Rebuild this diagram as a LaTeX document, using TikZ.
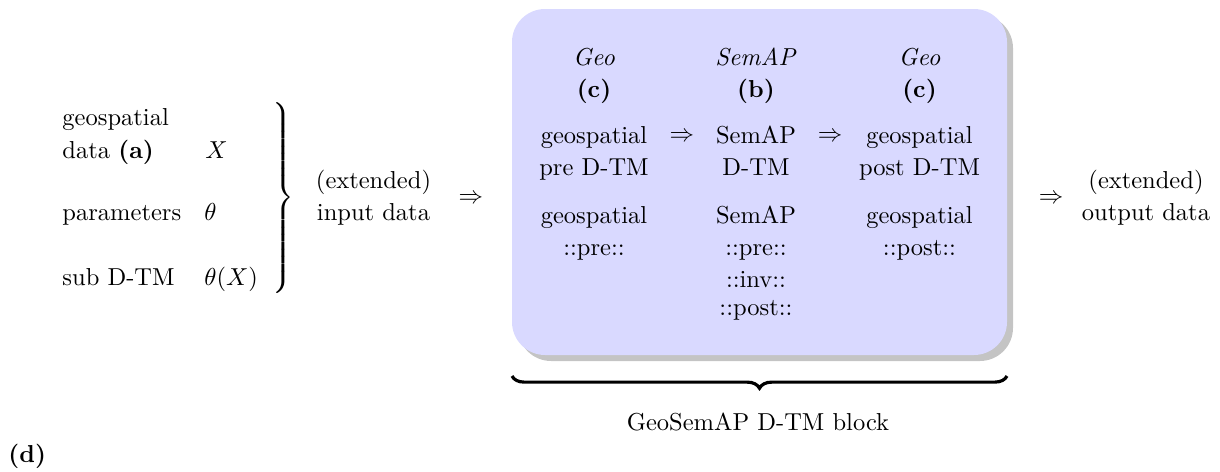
\documentclass[tikz,border=0pt]{standalone}
\usetikzlibrary{decorations.pathreplacing}
\begin{document}
\begin{tikzpicture}[x=0.408pt,y=-0.408pt,
  ln/.style={inner sep=0pt,anchor=base},
  lw/.style={inner sep=0pt,anchor=base west},
  arr/.style={inner sep=0pt,anchor=center},
  blockbg/.style={fill=blue!15,rounded corners=13.5pt},
  blockshadow/.style={fill=black!23,rounded corners=13.5pt},
  bracedeco/.style={decorate,decoration={brace,mirror,amplitude=5pt},line width=1.3pt}]
\useasboundingbox (0,0) rectangle (1220,472);
% block
\fill[blockshadow] (518,15) rectangle (1013,361);
\fill[blockbg] (512,9) rectangle (1007,355);
% left column
\node[lw] (l1) at (62,125) {geospatial};
\node[lw] (l2) at (62,158) {data \textbf{(a)}};
\node[lw] (l3) at (62,220) {parameters};
\node[lw] (l4) at (62,285) {sub D-TM};
\node[lw] (m1) at (205,158) {$X$};
\node[lw] (m2) at (204,220) {$\theta$};
\node[lw] (m3) at (204,285) {$\theta(X)$};
\node[arr] (lbrace) at (283,198) {$\nulldelimiterspace=0pt\left.\vrule height 42.5pt depth 37.5pt width 0pt\right\}$};
% input
\node[ln] (in1) at (373.5,188) {(extended)};
\node[ln] (in2) at (373.5,220) {input data};
\node[arr] (a0) at (471,199) {$\Rightarrow$};
% column 1
\node[ln] (c1h) at (594,65) {\textit{Geo}};
\node[ln] (c1l) at (594,97) {\textbf{(c)}};
\node[ln] (c1a) at (594,143) {geospatial};
\node[ln] (c1b) at (594,175) {pre D-TM};
\node[ln] (c1c) at (594,223) {geospatial};
\node[ln] (c1d) at (594,255) {::pre::};
\node[arr] (a1) at (682,137.5) {$\Rightarrow$};
% column 2
\node[ln] (c2h) at (756,65) {\textit{SemAP}};
\node[ln] (c2l) at (756,97) {\textbf{(b)}};
\node[ln] (c2a) at (756,143) {SemAP};
\node[ln] (c2b) at (756,175) {D-TM};
\node[ln] (c2c) at (756,223) {SemAP};
\node[ln] (c2d) at (756,255) {::pre::};
\node[ln] (c2e) at (756,287) {::inv::};
\node[ln] (c2f) at (756,315) {::post::};
\node[arr] (a2) at (830,137.5) {$\Rightarrow$};
% column 3
\node[ln] (c3h) at (919.5,65) {\textit{Geo}};
\node[ln] (c3l) at (919.5,97) {\textbf{(c)}};
\node[ln] (c3a) at (919.5,143) {geospatial};
\node[ln] (c3b) at (919.5,175) {post D-TM};
\node[ln] (c3c) at (919.5,223) {geospatial};
\node[ln] (c3d) at (919.5,255) {::post::};
% output
\node[arr] (a3) at (1051,199) {$\Rightarrow$};
\node[ln] (out1) at (1146,188) {(extended)};
\node[ln] (out2) at (1146,220) {output data};
% bottom brace
\coordinate (bl) at (512,376);
\coordinate (br) at (1007,376);
\draw[bracedeco] (bl) -- (br);
\node[ln] (blk) at (758,430) {GeoSemAP D-TM block};
\node[lw] (d) at (8,462) {\textbf{(d)}};
\end{tikzpicture}
\end{document}
